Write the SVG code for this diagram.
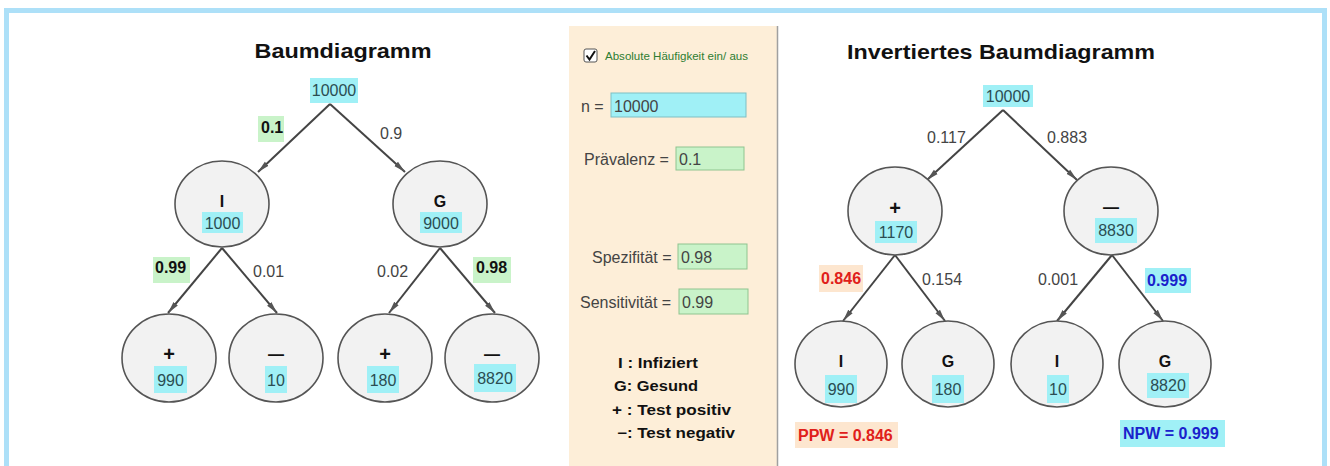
<svg xmlns="http://www.w3.org/2000/svg" width="1330" height="466" viewBox="0 0 1330 466">
<style>
text{font-family:"Liberation Sans",Arial,sans-serif}
.frame{fill:#ade0f8}
.panel{fill:#fdeed8}
.circ{fill:#f2f2f2;stroke:#555;stroke-width:1.6}
.edge{stroke:#444;stroke-width:2;fill:none;marker-end:url(#arr)}
.cy{fill:#a0f0f6}
.gr{fill:#c9f3c9}
.pe{fill:#fde6cf}
.num{font-size:16px;fill:#2b4d52;text-anchor:middle}
.lab{font-size:16px;fill:#444}
.blab{font-size:16px;font-weight:bold;fill:#111}
.nl{font-size:16px;font-weight:bold;fill:#111;text-anchor:middle}
.pl{font-size:20px;font-weight:bold;fill:#111;text-anchor:middle}
.title{font-size:21px;font-weight:bold;fill:#111;text-anchor:middle}
.leg{font-size:14px;font-weight:bold;fill:#111}
.inp{stroke:#8fc48f;stroke-width:1}
.red{fill:#e0201a;font-weight:bold;font-size:16px}
.blue{fill:#1a22cc;font-weight:bold;font-size:16px}
</style>
<defs>
<marker id="arr" viewBox="0 0 12 8" refX="12" refY="4" markerWidth="12" markerHeight="8" markerUnits="userSpaceOnUse" orient="auto">
<path d="M0,1.2 L12,4 L0,6.8 Z" fill="#555"/>
</marker>
</defs>
<rect width="1330" height="466" fill="#fff"/>
<g id="frame">
<rect class="frame" x="4" y="8" width="1323" height="5"/>
<rect class="frame" x="4" y="8" width="5" height="458"/>
<rect class="frame" x="1322" y="8" width="5" height="458"/>
</g>
<g id="panel">
<rect class="panel" x="569" y="26" width="208" height="440"/>
<line x1="777.5" y1="26" x2="777.5" y2="466" stroke="#a0a0a0" stroke-width="1.5"/>
<rect x="584" y="49" width="13" height="13" rx="2" fill="#fff" stroke="#555" stroke-width="1"/>
<path d="M586.5,55.5 L589.5,59.5 L595,51" stroke="#111" stroke-width="2" fill="none"/>
<text x="605" y="60" font-size="10.5" fill="#2e7d32" textLength="143" lengthAdjust="spacingAndGlyphs">Absolute Häufigkeit ein/ aus</text>
<text class="lab" x="581" y="112">n =</text>
<rect class="cy" x="611" y="93" width="135" height="24" stroke="#7fbfc4" stroke-width="1"/>
<text class="lab" x="614" y="112" fill="#222">10000</text>
<text class="lab" x="584" y="165">Prävalenz =</text>
<rect class="gr inp" x="676" y="147" width="68" height="23"/>
<text class="lab" x="679" y="165">0.1</text>
<text class="lab" x="592" y="263">Spezifität =</text>
<rect class="gr inp" x="678" y="244" width="69" height="25"/>
<text class="lab" x="681" y="263">0.98</text>
<text class="lab" x="580" y="308">Sensitivität =</text>
<rect class="gr inp" x="679" y="289" width="69" height="25"/>
<text class="lab" x="682" y="308">0.99</text>
<text class="leg" x="618" y="368" textLength="80" lengthAdjust="spacingAndGlyphs">I : Infiziert</text>
<text class="leg" x="614" y="391" textLength="84" lengthAdjust="spacingAndGlyphs">G: Gesund</text>
<text class="leg" x="612" y="415" textLength="119" lengthAdjust="spacingAndGlyphs">+ : Test positiv</text>
<text class="leg" x="617" y="438" textLength="118" lengthAdjust="spacingAndGlyphs">−: Test negativ</text>
</g>
<g id="titles">
<text class="title" x="343" y="58" textLength="177" lengthAdjust="spacingAndGlyphs">Baumdiagramm</text>
<text class="title" x="1001" y="59" textLength="308" lengthAdjust="spacingAndGlyphs">Invertiertes Baumdiagramm</text>
</g>
<g id="connectors">
<line class="edge" x1="330" y1="104" x2="258" y2="172"/>
<line class="edge" x1="330" y1="104" x2="405" y2="172"/>
<line class="edge" x1="222" y1="248" x2="168" y2="313"/>
<line class="edge" x1="222" y1="248" x2="277" y2="313"/>
<line class="edge" x1="440" y1="248" x2="389" y2="313"/>
<line class="edge" x1="440" y1="248" x2="495" y2="313"/>
<line class="edge" x1="1003" y1="110" x2="927" y2="180"/>
<line class="edge" x1="1003" y1="110" x2="1077" y2="180"/>
<line class="edge" x1="895" y1="255" x2="843" y2="321"/>
<line class="edge" x1="895" y1="255" x2="945" y2="321"/>
<line class="edge" x1="1112" y1="255" x2="1057" y2="321"/>
<line class="edge" x1="1112" y1="255" x2="1163" y2="321"/>
</g>
<g id="edge-labels">
<rect class="gr" x="258" y="116" width="26" height="26"/>
<text class="blab" x="261" y="133">0.1</text>
<text class="lab" x="380" y="139">0.9</text>
<rect class="gr" x="153" y="257" width="37" height="26"/>
<text class="blab" x="155" y="273">0.99</text>
<text class="lab" x="253" y="277">0.01</text>
<text class="lab" x="377" y="277">0.02</text>
<rect class="gr" x="473" y="257" width="38" height="26"/>
<text class="blab" x="476" y="273">0.98</text>
<text class="lab" x="927" y="143">0.117</text>
<text class="lab" x="1047" y="143">0.883</text>
<rect class="pe" x="819" y="265" width="44" height="27"/>
<text class="red" x="821" y="284">0.846</text>
<text class="lab" x="922" y="285">0.154</text>
<text class="lab" x="1038" y="285">0.001</text>
<rect class="cy" x="1145" y="268" width="46" height="25"/>
<text class="blue" x="1147" y="286">0.999</text>
</g>
<g id="root-left">
<rect class="cy" x="310" y="78" width="48" height="25"/>
<text class="num" x="334" y="96">10000</text>
</g>
<g id="node-I">
<ellipse class="circ" cx="222" cy="204" rx="47" ry="43"/>
<text class="nl" x="222" y="207">I</text>
<rect class="cy" x="202" y="212" width="41" height="21"/>
<text class="num" x="222.5" y="229">1000</text>
</g>
<g id="node-G">
<ellipse class="circ" cx="440" cy="204" rx="47" ry="43"/>
<text class="nl" x="440" y="207">G</text>
<rect class="cy" x="420" y="212" width="42" height="21"/>
<text class="num" x="441" y="229">9000</text>
</g>
<g id="node-Ipos">
<ellipse class="circ" cx="169" cy="358" rx="47" ry="44"/>
<text class="pl" x="169" y="361">+</text>
<rect class="cy" x="154" y="366" width="33" height="27"/>
<text class="num" x="170.5" y="386">990</text>
</g>
<g id="node-Ineg">
<ellipse class="circ" cx="276" cy="358" rx="47" ry="44"/>
<text class="nl" x="276" y="360">—</text>
<rect class="cy" x="265" y="366" width="22" height="27"/>
<text class="num" x="276" y="386">10</text>
</g>
<g id="node-Gpos">
<ellipse class="circ" cx="385" cy="358" rx="47" ry="44"/>
<text class="pl" x="385" y="361">+</text>
<rect class="cy" x="367" y="366" width="32" height="27"/>
<text class="num" x="383" y="386">180</text>
</g>
<g id="node-Gneg">
<ellipse class="circ" cx="492" cy="358" rx="47" ry="44"/>
<text class="nl" x="492" y="360">—</text>
<rect class="cy" x="474" y="364" width="42" height="28"/>
<text class="num" x="495" y="384">8820</text>
</g>
<g id="root-right">
<rect class="cy" x="983" y="85" width="50" height="22"/>
<text class="num" x="1008" y="102">10000</text>
</g>
<g id="node-pos">
<ellipse class="circ" cx="895" cy="211" rx="47" ry="44"/>
<text class="pl" x="895" y="215">+</text>
<rect class="cy" x="875" y="221" width="42" height="22"/>
<text class="num" x="896" y="238">1170</text>
</g>
<g id="node-neg">
<ellipse class="circ" cx="1111" cy="211" rx="47" ry="44"/>
<text class="nl" x="1111" y="213">—</text>
<rect class="cy" x="1095" y="218" width="42" height="25"/>
<text class="num" x="1116" y="236">8830</text>
</g>
<g id="node-posI">
<ellipse class="circ" cx="841" cy="364" rx="46" ry="43"/>
<text class="nl" x="841" y="367">I</text>
<rect class="cy" x="825" y="375" width="32" height="28"/>
<text class="num" x="841" y="395">990</text>
</g>
<g id="node-posG">
<ellipse class="circ" cx="948" cy="364" rx="46" ry="43"/>
<text class="nl" x="948" y="367">G</text>
<rect class="cy" x="932" y="375" width="32" height="28"/>
<text class="num" x="948" y="395">180</text>
</g>
<g id="node-negI">
<ellipse class="circ" cx="1057" cy="364" rx="46" ry="43"/>
<text class="nl" x="1057" y="367">I</text>
<rect class="cy" x="1047" y="375" width="22" height="28"/>
<text class="num" x="1058" y="395">10</text>
</g>
<g id="node-negG">
<ellipse class="circ" cx="1165" cy="364" rx="46" ry="43"/>
<text class="nl" x="1165" y="367">G</text>
<rect class="cy" x="1147" y="373" width="42" height="25"/>
<text class="num" x="1168" y="391">8820</text>
</g>
<g id="ppw">
<rect class="pe" x="795" y="422" width="103" height="26"/>
<text class="red" x="798" y="441">PPW = 0.846</text>
</g>
<g id="npw">
<rect class="cy" x="1120" y="420" width="105" height="27"/>
<text class="blue" x="1123" y="439">NPW = 0.999</text>
</g>
</svg>
